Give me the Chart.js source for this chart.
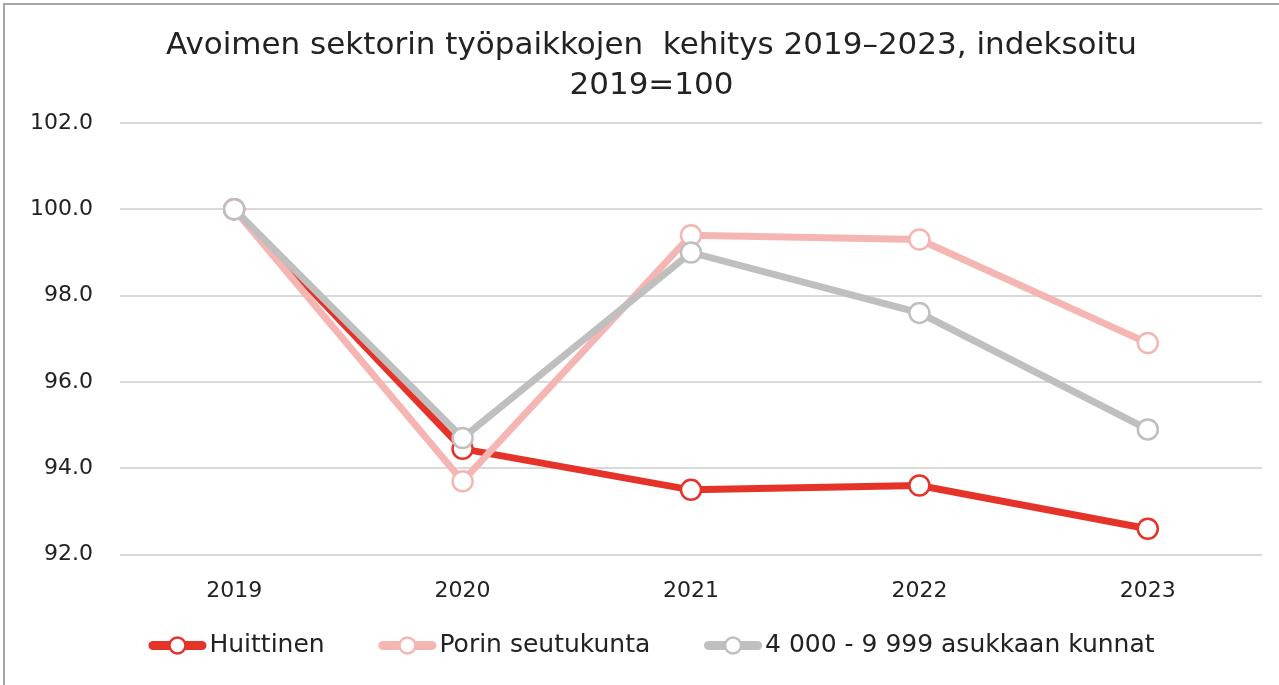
<!DOCTYPE html>
<html>
<head>
<meta charset="utf-8">
<script src="https://cdn.jsdelivr.net/npm/chart.js@4/dist/chart.umd.min.js"></script>
<style>
  body { margin: 0; background: #fff; }
  #wrap { position: absolute; left: 3px; top: 3px; width: 1290px; height: 700px;
          border: 2px solid #a6a6a6; box-sizing: border-box; }
  #box { position: absolute; left: 0; top: 0; width: 1279px; height: 685px; }
</style>
</head>
<body>
<div id="wrap"></div>
<div id="box"><canvas id="chart"></canvas></div>
<script>
// DATA
const years = ["2019", "2020", "2021", "2022", "2023"];
const huittinen = [100.0, 94.45, 93.5, 93.6, 92.6];
const porinSeutukunta = [100.0, 93.7, 99.4, 99.3, 96.9];
const kunnat4000 = [100.0, 94.7, 99.0, 97.6, 94.9];
const seriesNames = ["Huittinen", "Porin seutukunta", "4 000 - 9 999 asukkaan kunnat"];
const seriesColors = ["#e5332a", "#f5b6b3", "#bfbfbf"];

const FONT = "'DejaVu Sans', sans-serif";
const LEGEND_FONT = 25;
const MARKER_W = 58;

function makeSet(name, data, color, order) {
  return {
    label: name,
    data: data,
    order: order, // later series drawn on top, like the original
    borderColor: color,
    backgroundColor: color,
    borderWidth: 7,
    pointRadius: 10,
    pointHoverRadius: 10,
    pointBorderWidth: 2.5,
    pointBackgroundColor: "#ffffff",
    pointBorderColor: color,
    tension: 0,
  };
}

// title and legend sit centred a bit right of the canvas middle
const shiftBlocks = {
  id: "shiftBlocks",
  afterLayout(chart) {
    if (chart.titleBlock) chart.titleBlock.left += 38;
    if (chart.legend) chart.legend.left += 38;
  },
};

// legend sample: thick rounded line with an open circle, right next to the text
const legendMarker = {
  id: "legendMarker",
  afterDraw(chart) {
    const legend = chart.legend;
    if (!legend || !legend.legendHitBoxes) return;
    const ctx = chart.ctx;
    const bw = legend.options.labels.boxWidth;
    legend.legendHitBoxes.forEach((box, i) => {
      const item = legend.legendItems[i];
      const color = chart.data.datasets[item.datasetIndex].borderColor;
      const x1 = box.left + bw + LEGEND_FONT / 2 - 3;
      const x0 = x1 - MARKER_W;
      const cy = box.top + box.height / 2;
      ctx.save();
      ctx.lineCap = "round";
      ctx.lineWidth = 9;
      ctx.strokeStyle = color;
      ctx.beginPath();
      ctx.moveTo(x0 + 4.5, cy);
      ctx.lineTo(x1 - 4.5, cy);
      ctx.stroke();
      ctx.beginPath();
      ctx.arc((x0 + x1) / 2, cy, 8, 0, Math.PI * 2);
      ctx.fillStyle = "#ffffff";
      ctx.fill();
      ctx.lineWidth = 2.5;
      ctx.stroke();
      ctx.restore();
    });
  },
};

new Chart(document.getElementById("chart"), {
  type: "line",
  data: {
    labels: years,
    datasets: [
      makeSet(seriesNames[0], huittinen, seriesColors[0], 3),
      makeSet(seriesNames[1], porinSeutukunta, seriesColors[1], 2),
      makeSet(seriesNames[2], kunnat4000, seriesColors[2], 1),
    ],
  },
  options: {
    responsive: true,
    maintainAspectRatio: false,
    animation: false,
    layout: { padding: { left: 3, right: 17, top: 16, bottom: 17 } },
    scales: {
      x: {
        offset: true,
        grid: { display: false },
        border: { display: false },
        ticks: { color: "#222", font: { family: FONT, size: 22 }, padding: 15 },
      },
      y: {
        min: 92,
        max: 102,
        grid: { color: "#d9d9d9", lineWidth: 2, drawTicks: false },
        border: { display: false },
        ticks: {
          stepSize: 2,
          color: "#222",
          padding: 27,
          font: { family: FONT, size: 22 },
          callback: (v) => v.toFixed(1),
        },
      },
    },
    plugins: {
      title: {
        display: true,
        text: ["Avoimen sektorin työpaikkojen  kehitys 2019–2023, indeksoitu", "2019=100"],
        color: "#222",
        font: { family: FONT, size: 31, weight: "normal", lineHeight: 1.29 },
        padding: { top: 10, bottom: 17 },
      },
      legend: {
        position: "bottom",
        labels: {
          boxWidth: MARKER_W - LEGEND_FONT / 2 + 3,
          boxHeight: 7,
          color: "#222",
          padding: 14,
          font: { family: FONT, size: LEGEND_FONT },
          sort: (a, b) => a.datasetIndex - b.datasetIndex,
          generateLabels: (chart) => {
            const items = Chart.defaults.plugins.legend.labels.generateLabels(chart);
            items.forEach((it) => {
              it.fillStyle = "rgba(0,0,0,0)";
              it.strokeStyle = "rgba(0,0,0,0)";
              it.lineWidth = 0;
              // trailing no-break spaces widen the gap to the next item
              if (it.datasetIndex < seriesNames.length - 1) {
                it.text = it.text + "\u00A0\u00A0\u00A0\u00A0\u00A0";
              }
            });
            return items;
          },
        },
      },
      tooltip: { enabled: false },
    },
  },
  plugins: [shiftBlocks, legendMarker],
});
</script>
</body>
</html>
